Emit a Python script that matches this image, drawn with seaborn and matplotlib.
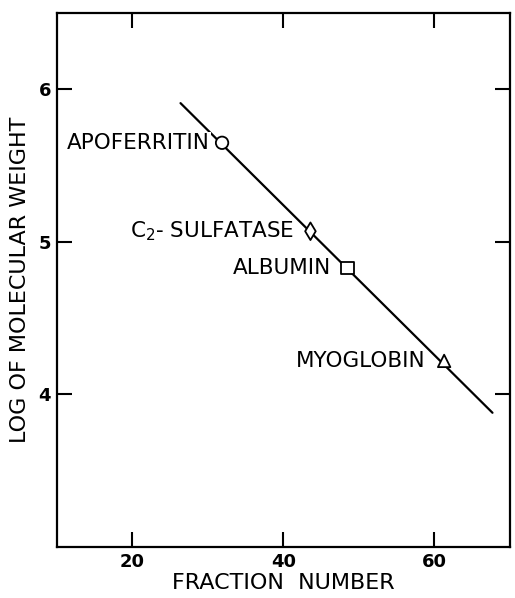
import matplotlib
matplotlib.use("Agg")
import matplotlib.pyplot as plt
import seaborn as sns
import pandas as pd

# Data
proteins = ["APOFERRITIN", "C$_2$- SULFATASE", "ALBUMIN", "MYOGLOBIN"]
fraction = [31.9, 43.6, 48.5, 61.3]
log_mw = [5.65, 5.07, 4.83, 4.22]
markers = ["o", "d", "s", "^"]
fit_x = [26.4, 67.7]
fit_y = [5.91, 3.88]
x_ticks = [20, 40, 60]
y_ticks = [4, 5, 6]

sns.set_theme(style="ticks")
plt.rcParams["font.family"] = ["DejaVu Sans"]
plt.rcParams["mathtext.default"] = "regular"
plt.rcParams["text.color"] = "black"
plt.rcParams["axes.labelcolor"] = "black"

fig = plt.figure(figsize=(5.15, 5.98), dpi=100)
ax = fig.add_axes([0.11, 0.0853, 0.88, 0.8927])

fit = pd.DataFrame({"x": fit_x, "y": fit_y})
sns.lineplot(data=fit, x="x", y="y", ax=ax, color="black", linewidth=1.6)

pts = pd.DataFrame({"fraction": fraction, "log_mw": log_mw, "protein": proteins})
sns.scatterplot(data=pts, x="fraction", y="log_mw", style="protein",
                markers=dict(zip(proteins, markers)), ax=ax, s=80,
                facecolor="white", edgecolor="black", linewidth=1.3,
                legend=False, zorder=3)

offsets = [(-12, 0), (-16, 0), (-16, 0), (-19, 0)]
for name, fx, fy, off in zip(proteins, fraction, log_mw, offsets):
    ax.annotate(name, (fx, fy), xytext=off, textcoords="offset pixels",
                ha="right", va="center", fontsize=15.5, color="black",
                bbox=dict(facecolor="white", edgecolor="none", pad=0.5),
                zorder=4)

ax.set_xlim(10, 70)
ax.set_ylim(3.0, 6.5)
ax.set_xticks(x_ticks)
ax.set_yticks(y_ticks)
ax.tick_params(direction="in", length=11, width=1.5, top=True, right=True,
               labelsize=13, pad=4, colors="black")
for lab in ax.get_xticklabels() + ax.get_yticklabels():
    lab.set_fontweight("bold")
for sp in ax.spines.values():
    sp.set_visible(True)
    sp.set_linewidth(1.6)
    sp.set_color("black")

ax.set_xlabel("FRACTION  NUMBER", fontsize=16, labelpad=2, color="black")
ax.set_ylabel("LOG OF MOLECULAR WEIGHT", fontsize=16, labelpad=6, color="black")

fig.savefig("out.png", dpi=100, facecolor="white")
